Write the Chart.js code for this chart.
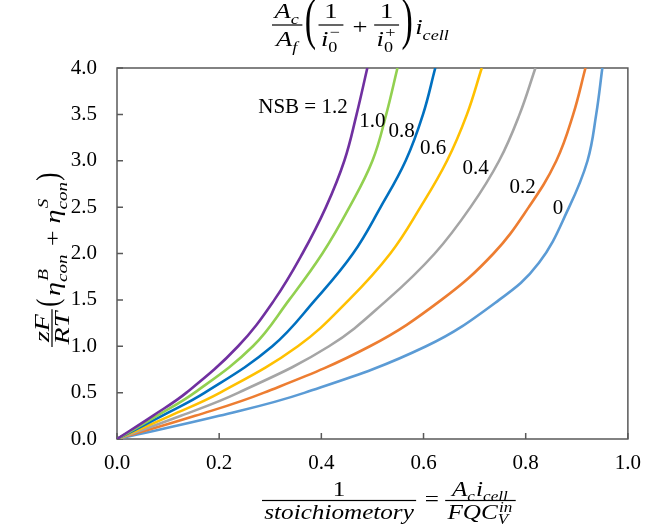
<!DOCTYPE html>
<html><head><meta charset="utf-8">
<script src="https://cdn.jsdelivr.net/npm/chart.js@4/dist/chart.umd.min.js"></script>
<style>html,body{margin:0;padding:0;background:#fff}#wrap{width:653px;height:528px;position:relative}</style>
</head><body><div id="wrap"><canvas id="c" width="653" height="528"></canvas></div>
<script>
// ---- data ----
const nsbNames = ['1.2', '1.0', '0.8', '0.6', '0.4', '0.2', '0'];
const yLevels  = [0, 0.25, 0.5, 1.0, 1.5, 2.0, 2.5, 3.0, 3.5, 4.0];
const xNSB12 = [0, 0.070, 0.136, 0.237, 0.308, 0.363, 0.409, 0.445, 0.469, 0.490];
const xNSB10 = [0, 0.078, 0.152, 0.266, 0.337, 0.402, 0.455, 0.500, 0.527, 0.549];
const xNSB08 = [0, 0.088, 0.172, 0.304, 0.388, 0.462, 0.516, 0.565, 0.599, 0.623];
const xNSB06 = [0, 0.104, 0.202, 0.354, 0.454, 0.535, 0.594, 0.646, 0.685, 0.714];
const xNSB04 = [0, 0.125, 0.238, 0.415, 0.529, 0.622, 0.692, 0.748, 0.788, 0.819];
const xNSB02 = [0, 0.153, 0.288, 0.495, 0.635, 0.737, 0.806, 0.860, 0.893, 0.917];
const yLevels0 = [0, 0.25, 0.5, 1.0, 1.5, 1.9, 2.5, 3.0, 3.5, 4.0];
const xNSB00 = [0, 0.200, 0.368, 0.605, 0.748, 0.826, 0.885, 0.921, 0.938, 0.950];
const xTicks = [0, 0.2, 0.4, 0.6, 0.8, 1.0];
const yTicks = [0, 0.5, 1.0, 1.5, 2.0, 2.5, 3.0, 3.5, 4.0];

const seriesX = [xNSB12, xNSB10, xNSB08, xNSB06, xNSB04, xNSB02, xNSB00];
const seriesY = [yLevels, yLevels, yLevels, yLevels, yLevels, yLevels, yLevels0];
const colors = ['#7030A0', '#92D050', '#0070C0', '#FFC000', '#A5A5A5', '#ED7D31', '#5B9BD5'];
// label anchors (data units) for curve annotations
const labelAnchors = [[0.364, 3.57], [0.500, 3.42], [0.557, 3.32], [0.619, 3.13], [0.702, 2.92], [0.794, 2.71], [0.863, 2.48]];

const FAM = '"Liberation Serif", "Times New Roman", serif';
function F(roman, size) { return (roman ? '' : 'italic ') + size + 'px ' + FAM; }

// --- small formula renderer ---
function run(ctx, items, o, draw, x0, base) {
  let cx = x0;
  const size = o.size;
  for (const it of items) {
    if (it.frac) {
      const wn = run(ctx, it.frac[0], o, false, 0, 0);
      const wd = run(ctx, it.frac[1], o, false, 0, 0);
      const w = Math.max(wn, wd) + 4;
      if (draw) {
        const axis = base - o.axisUp;
        run(ctx, it.frac[0], o, true, cx + (w - wn) / 2, axis - o.numOff);
        run(ctx, it.frac[1], Object.assign({}, o, o.den || {}), true, cx + (w - wd) / 2, axis + o.denOff);
        ctx.fillRect(cx, axis - 0.6, w, 1.2);
      }
      cx += w + 2;
    } else if (it.sc) {
      const ss = Math.round(size * 0.68);
      let w = 0;
      if (it.sup !== undefined) {
        ctx.font = F(it.supR, ss);
        const m = ctx.measureText(it.sup).width;
        if (draw) ctx.fillText(it.sup, cx + 1, base - o.supUp);
        w = Math.max(w, m + 1);
      }
      if (it.sub !== undefined) {
        ctx.font = F(it.subR, ss);
        const m = ctx.measureText(it.sub).width;
        if (draw) ctx.fillText(it.sub, cx, base + o.subDn);
        w = Math.max(w, m);
      }
      cx += w + 1;
    } else if (it.big) {
      ctx.font = F(true, it.bs);
      const m = ctx.measureText(it.big).width * it.sq;
      if (draw) {
        const axis = base - o.axisUp;
        ctx.save();
        ctx.translate(cx, axis + it.bs * 0.235 + (it.dy || 0));
        ctx.scale(it.sq, 1);
        ctx.fillText(it.big, 0, 0);
        ctx.restore();
      }
      cx += m + 2;
    } else {
      ctx.font = F(it.r, size);
      const m = ctx.measureText(it.t).width;
      if (draw) ctx.fillText(it.t, cx, base);
      cx += m;
    }
  }
  return cx - x0;
}
function drawFormula(ctx, items, o) {
  const w = run(ctx, items, o, false, 0, 0);
  const s = o.span / w;
  ctx.save();
  ctx.fillStyle = '#000';
  ctx.textBaseline = 'alphabetic';
  ctx.textAlign = 'left';
  ctx.translate(o.x, o.y);
  if (o.rot) ctx.rotate(-Math.PI / 2);
  ctx.scale(s, 1);
  run(ctx, items, o, true, 0, 0);
  ctx.restore();
}

const topTitle = [
  { frac: [[{ t: 'A' }, { sc: 1, sub: 'c' }], [{ t: 'A' }, { sc: 1, sub: 'f' }]] },
  { big: '(', bs: 56, sq: 0.5 },
  { frac: [[{ t: '1', r: 1 }], [{ t: 'i' }, { sc: 1, sub: '0', subR: 1, sup: '\u2212', supR: 1 }]] },
  { t: ' + ', r: 1 },
  { frac: [[{ t: '1', r: 1 }], [{ t: 'i' }, { sc: 1, sub: '0', subR: 1, sup: '+', supR: 1 }]] },
  { big: ')', bs: 56, sq: 0.5 },
  { t: 'i' }, { sc: 1, sub: 'cell' }
];
const xTitle = [
  { frac: [[{ t: '1', r: 1 }], [{ t: 'stoichiometory' }]] },
  { t: ' = ', r: 1 },
  { frac: [[{ t: 'A' }, { sc: 1, sub: 'c' }, { t: 'i' }, { sc: 1, sub: 'cell' }], [{ t: 'FQC' }, { sc: 1, sub: 'V', sup: 'in' }]] }
];
const yTitle = [
  { frac: [[{ t: 'zF' }], [{ t: 'RT' }]] },
  { big: '(', bs: 32, sq: 0.6, dy: -2 },
  { t: '\u03B7' }, { sc: 1, sup: 'B', sub: 'con' },
  { t: ' + ', r: 1 },
  { t: '\u03B7' }, { sc: 1, sup: 'S', sub: 'con' },
  { big: ')', bs: 32, sq: 0.6, dy: -2 }
];

const decor = {
  id: 'decor',
  beforeDatasetsDraw(chart) {
    const { ctx, chartArea: a, scales: { x, y } } = chart;
    ctx.save();
    ctx.strokeStyle = '#595959';
    ctx.lineWidth = 1.5;
    ctx.strokeRect(a.left, a.top, a.right - a.left, a.bottom - a.top);
    ctx.beginPath();
    for (const v of xTicks) {
      const px = x.getPixelForValue(v);
      ctx.moveTo(px, a.bottom); ctx.lineTo(px, a.bottom - 6);
    }
    for (const v of yTicks) {
      const py = y.getPixelForValue(v);
      ctx.moveTo(a.left, py); ctx.lineTo(a.left + 6, py);
    }
    ctx.stroke();
    ctx.restore();
  },
  afterDraw(chart) {
    const { ctx, scales: { x, y } } = chart;
    ctx.save();
    ctx.fillStyle = '#000';
    ctx.font = '21px ' + FAM;
    ctx.textAlign = 'center';
    ctx.textBaseline = 'middle';
    nsbNames.forEach((n, i) => {
      const txt = i === 0 ? 'NSB = ' + n : n;
      ctx.fillText(txt, x.getPixelForValue(labelAnchors[i][0]), y.getPixelForValue(labelAnchors[i][1]));
    });
    ctx.restore();
    drawFormula(ctx, topTitle, { size: 22, x: 272, y: 34, span: 178, axisUp: 9, numOff: 6.6, denOff: 21, supUp: 9, subDn: 6 });
    drawFormula(ctx, xTitle, { size: 22, x: 262, y: 505.5, span: 256, axisUp: 5, numOff: 5, denOff: 18.5, supUp: 9, subDn: 5, den: { supUp: 7, subDn: 5 } });
    drawFormula(ctx, yTitle, { size: 22, x: 60, y: 347, span: 177, rot: true, axisUp: 8, numOff: 3, denOff: 17, supUp: 12, subDn: 7 });
  }
};

const datasets = seriesX.map((xs, i) => ({
  label: 'NSB = ' + nsbNames[i],
  data: xs.map((v, k) => ({ x: v, y: seriesY[i][k] })),
  borderColor: colors[i],
  backgroundColor: colors[i],
  borderWidth: 2.6,
  pointRadius: 0,
  showLine: true,
  fill: false,
  tension: 0.4
}));

new Chart(document.getElementById('c'), {
  type: 'scatter',
  data: { datasets },
  options: {
    responsive: false,
    animation: false,
    layout: { padding: { left: 0, right: 13, top: 68, bottom: 0 } },
    plugins: { legend: { display: false }, tooltip: { enabled: false }, title: { display: false } },
    scales: {
      x: {
        type: 'linear', min: 0, max: 1,
        afterBuildTicks: s => { s.ticks = xTicks.map(v => ({ value: v })); },
        afterFit: s => { s.height = 89; },
        grid: { display: false, drawTicks: false },
        border: { display: false },
        ticks: { color: '#000', font: { family: FAM, size: 21 }, padding: 12, maxRotation: 0, callback: v => Number(v).toFixed(1) }
      },
      y: {
        type: 'linear', min: 0, max: 4,
        afterBuildTicks: s => { s.ticks = yTicks.map(v => ({ value: v })); },
        afterFit: s => { s.width = 117; },
        grid: { display: false, drawTicks: false },
        border: { display: false },
        ticks: { color: '#000', font: { family: FAM, size: 21 }, padding: 20, callback: v => Number(v).toFixed(1) }
      }
    }
  },
  plugins: [decor]
});
</script>
</body></html>
